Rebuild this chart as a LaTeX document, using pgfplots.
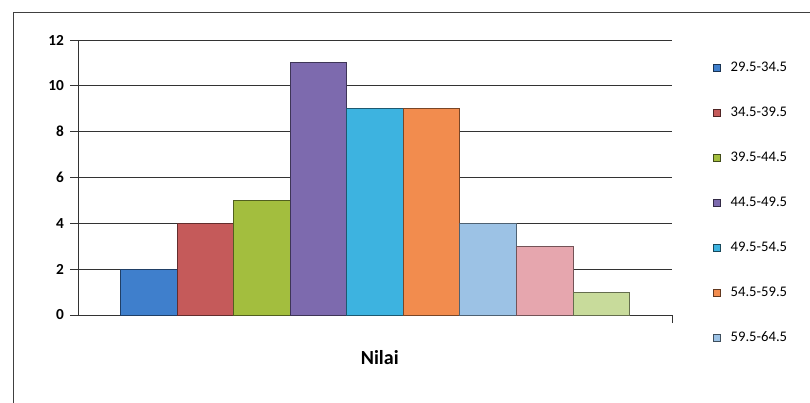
\documentclass[border=0pt]{standalone}
\usepackage{fontspec}
\setmainfont{Carlito}
\usepackage{pgfplots}
\pgfplotsset{compat=1.18}

% bar colours, one per class interval
\definecolor{c1}{HTML}{3F7FCC}
\definecolor{c2}{HTML}{C55A5A}
\definecolor{c3}{HTML}{A3BE3E}
\definecolor{c4}{HTML}{7D6AAE}
\definecolor{c5}{HTML}{3DB3E0}
\definecolor{c6}{HTML}{F28C4E}
\definecolor{c7}{HTML}{9CC2E5}
\definecolor{c8}{HTML}{E6A6AE}
\definecolor{c9}{HTML}{C8DB9B}

\pgfplotsset{
  freqbar/.style={
    ybar, bar width=1, bar shift=0pt,
    fill=#1, draw=#1!50!black, line width=0.7pt,
    legend image code/.code={%
      \draw[fill=#1, draw=#1!40!black, line width=0.8pt]
        (0pt,-2.6pt) rectangle (5.2pt,2.6pt);}
  }
}

\begin{document}
\begin{tikzpicture}
\useasboundingbox (0,0) rectangle (607.5pt,302.25pt);
% chart frame
\draw[black!75, line width=0.75pt] (9.75pt,0pt) -- (9.75pt,293pt) -- (607.5pt,293pt);

\begin{axis}[
  at={(58.5pt,66pt)}, anchor=south west,
  scale only axis, width=445.5pt, height=206.25pt,
  xmin=-0.25, xmax=10.25, ymin=0, ymax=12,
  ytick={0,2,...,12},
  xtick={10.25}, xticklabels={},
  axis x line=bottom, axis y line=left,
  axis line style={-, black!80, line width=0.7pt},
  ymajorgrids, grid style={black!80, line width=0.7pt},
  tick align=outside, major tick length=6pt,
  tick style={black!80, line width=0.7pt},
  /pgf/number format/assume math mode=true,
  yticklabel style={font=\bfseries\fontsize{11.5}{12}\selectfont, xshift=-1pt},
  xlabel={Nilai},
  xlabel style={at={(axis description cs:0.508,-0.156)}, anchor=center,
    font=\bfseries\fontsize{15}{16}\selectfont},
  legend style={at={(axis description cs:1.068,0.93)}, anchor=north west,
    draw=none, fill=none, font=\fontsize{11}{12}\selectfont,
    row sep=21.1pt, inner sep=0pt,
    /tikz/every odd column/.append style={column sep=5.5pt}},
  legend cell align=left,
  clip=false,
]
\addplot[freqbar=c1] coordinates {(1,2)};
\addplot[freqbar=c2] coordinates {(2,4)};
\addplot[freqbar=c3] coordinates {(3,5)};
\addplot[freqbar=c4] coordinates {(4,11)};
\addplot[freqbar=c5] coordinates {(5,9)};
\addplot[freqbar=c6] coordinates {(6,9)};
\addplot[freqbar=c7] coordinates {(7,4)};
\addplot[freqbar=c8, forget plot] coordinates {(8,3)};
\addplot[freqbar=c9, forget plot] coordinates {(9,1)};
\legend{29.5-34.5,34.5-39.5,39.5-44.5,44.5-49.5,49.5-54.5,54.5-59.5,59.5-64.5}
\end{axis}
\end{tikzpicture}
\end{document}
